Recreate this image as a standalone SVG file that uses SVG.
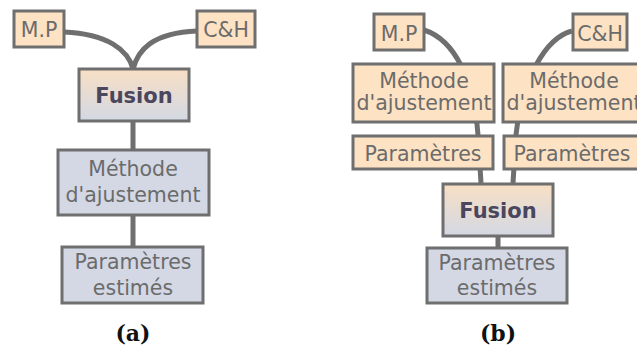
<svg xmlns="http://www.w3.org/2000/svg" width="637" height="349" viewBox="0 0 637 349">
<defs>
<linearGradient id="fg" x1="0" y1="0" x2="0" y2="1">
<stop offset="0" stop-color="#f8dfc4"/>
<stop offset="1" stop-color="#d3d8e4"/>
</linearGradient>
<style>
.peach{fill:#fde2c3;stroke:#6f6f6f;stroke-width:3}
.blue{fill:#d3d8e4;stroke:#6f6f6f;stroke-width:3}
.fus{fill:url(#fg);stroke:#6f6f6f;stroke-width:3}
.t{font-family:"DejaVu Sans",Verdana,sans-serif;font-size:20.5px;fill:#6b6b6b;text-anchor:middle}
.tb{font-family:"DejaVu Sans",Verdana,sans-serif;font-size:21px;font-weight:bold;fill:#4a465e;text-anchor:middle}
.lab{font-family:"DejaVu Serif","Liberation Serif",serif;font-size:22px;font-weight:bold;fill:#111;text-anchor:middle}
.c{fill:none;stroke:#6f6f6f;stroke-width:5}
</style>
</defs>
<g id="connectors">
<path class="c" d="M64,32 C108,34 128,50 133,69"/>
<path class="c" d="M197,31 C152,33 138,50 133,69"/>
<path class="c" d="M133,121 L133,247"/>
<path class="c" d="M424,30 C455,40 474,80 478,135 L481,183"/>
<path class="c" d="M572,31 C545,38 522,80 516,135 L513,183"/>
<path class="c" d="M498,236 L498,248"/>
</g>
<g id="a-mp"><rect class="peach" x="14" y="11" width="50" height="36"/><text class="t" x="39" y="37">M.P</text></g>
<g id="a-ch"><rect class="peach" x="197" y="11" width="58" height="36"/><text class="t" x="226" y="37">C&amp;H</text></g>
<g id="a-fusion"><rect class="fus" x="79" y="69" width="110" height="52"/><text class="tb" x="134" y="103">Fusion</text></g>
<g id="a-methode"><rect class="blue" x="58" y="150" width="151" height="65"/><text class="t" x="133" y="176">Méthode</text><text class="t" x="133" y="202">d'ajustement</text></g>
<g id="a-params"><rect class="blue" x="62" y="247" width="141" height="56"/><text class="t" x="133" y="269">Paramètres</text><text class="t" x="133" y="295">estimés</text></g>
<text class="lab" x="133" y="341">(a)</text>

<g id="b-mp"><rect class="peach" x="374" y="14" width="50" height="36"/><text class="t" x="399" y="41">M.P</text></g>
<g id="b-ch"><rect class="peach" x="573" y="14" width="54" height="36"/><text class="t" x="600" y="41">C&amp;H</text></g>
<g id="b-methode1"><rect class="peach" x="353" y="64" width="141" height="58"/><text class="t" x="424" y="88">Méthode</text><text class="t" x="424" y="110">d'ajustement</text></g>
<g id="b-methode2"><rect class="peach" x="503" y="64" width="142" height="58"/><text class="t" x="574" y="88">Méthode</text><text class="t" x="574" y="110">d'ajustement</text></g>
<g id="b-params1"><rect class="peach" x="353" y="136" width="140" height="33"/><text class="t" x="423" y="161">Paramètres</text></g>
<g id="b-params2"><rect class="peach" x="504" y="136" width="140" height="33"/><text class="t" x="572" y="161">Paramètres</text></g>
<g id="b-fusion"><rect class="fus" x="443" y="184" width="110" height="52"/><text class="tb" x="498" y="218">Fusion</text></g>
<g id="b-params"><rect class="blue" x="427" y="248" width="140" height="55"/><text class="t" x="497" y="270">Paramètres</text><text class="t" x="497" y="295">estimés</text></g>
<text class="lab" x="498" y="341">(b)</text>
</svg>
